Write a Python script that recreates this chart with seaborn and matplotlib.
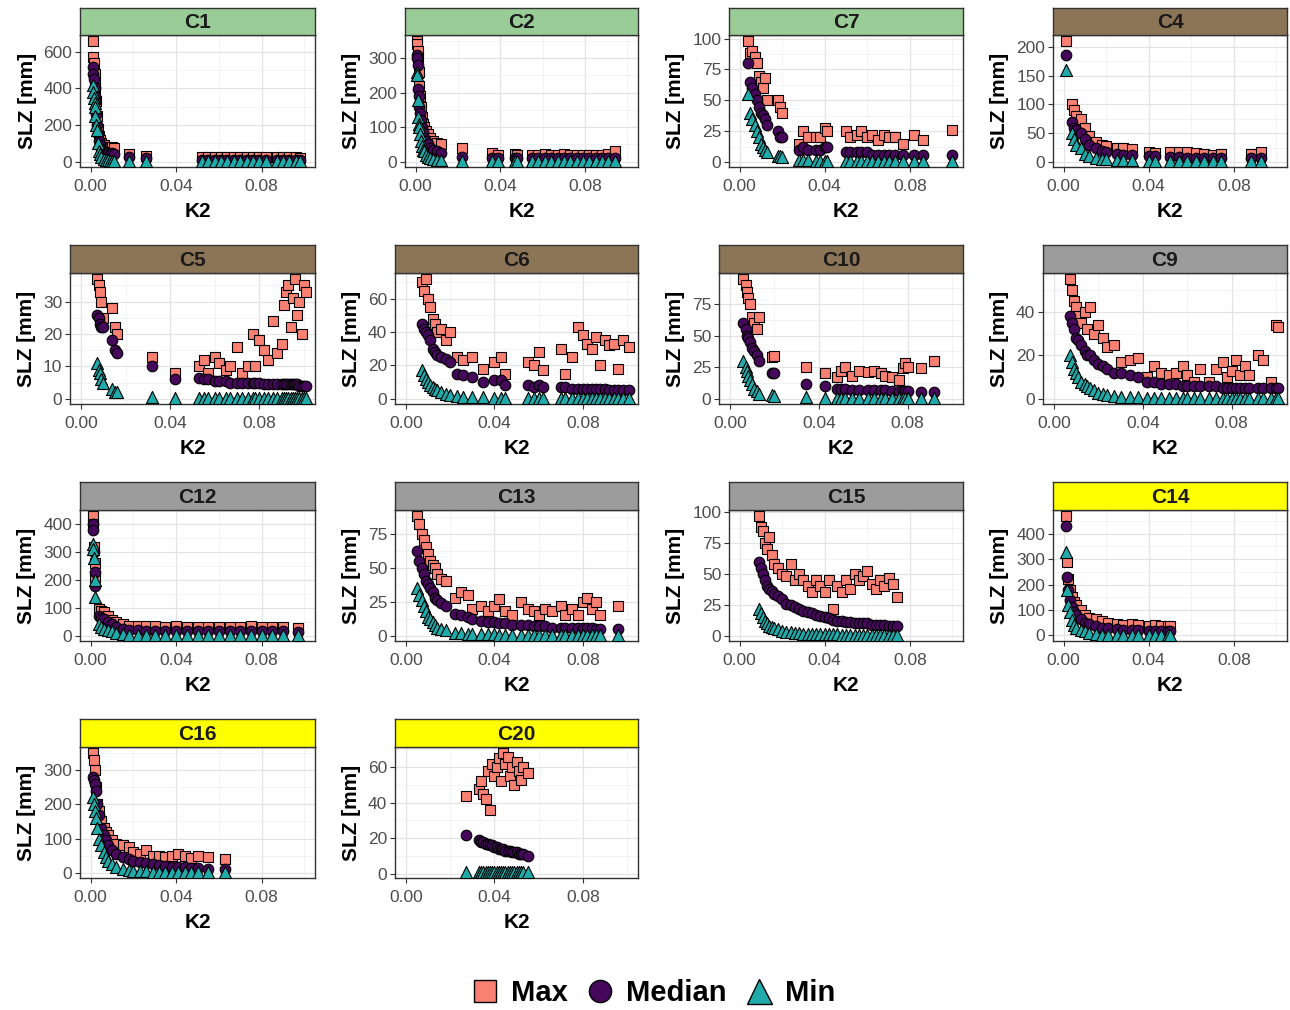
import matplotlib
matplotlib.use("Agg")
import numpy as np
import pandas as pd
import matplotlib.pyplot as plt
import seaborn as sns
from matplotlib.lines import Line2D
from matplotlib.ticker import AutoMinorLocator

sns.set_theme(style="white")
plt.rcParams['font.family'] = ['Liberation Sans', 'DejaVu Sans']

# ---------------- data ----------------
C1_k2 = [0.0010, 0.0012, 0.0015, 0.0018, 0.0020, 0.0022, 0.0025, 0.0030, 0.0035, 0.0040, 0.0045, 0.0050,
         0.0060, 0.0070, 0.0080, 0.0090, 0.0100, 0.0110, 0.0180, 0.0260, 0.0520, 0.0550, 0.0580, 0.0610,
         0.0640, 0.0670, 0.0700, 0.0730, 0.0760, 0.0790, 0.0820, 0.0870, 0.0900, 0.0930, 0.0960, 0.0980]
C1_max = [660, 570, 540, 480, 430, 400, 330, 250, 180, 140, 120, 100, 90, 80, 75, 70, 80, 75, 40, 30,
          25, 25, 25, 25, 25, 25, 25, 25, 25, 25, 25, 25, 25, 25, 25, 20]
C1_med = [520, 480, 450, 400, 360, 330, 260, 200, 150, 110, 90, 70, 60, 50, 45, 40, 45, 40, 25, 20,
          10, 10, 10, 10, 10, 10, 10, 10, 10, 10, 10, 10, 10, 10, 10, 10]
C1_min = [420, 380, 350, 320, 300, 250, 200, 170, 100, 60, 40, 25, 15, 10, 8, 5, 5, 5, 5, 5,
          3, 3, 3, 3, 3, 3, 3, 3, 3, 3, 3, 3, 3, 3, 3, 3]

C2_k2 = [0.0005, 0.0008, 0.0010, 0.0012, 0.0015, 0.0018, 0.0020, 0.0025, 0.0030, 0.0035, 0.0040, 0.0050,
         0.0060, 0.0070, 0.0080, 0.0100, 0.0120, 0.0220, 0.0360, 0.0390, 0.0470, 0.0480, 0.0550, 0.0580,
         0.0610, 0.0640, 0.0670, 0.0700, 0.0730, 0.0760, 0.0790, 0.0820, 0.0850, 0.0880, 0.0910, 0.0940]
C2_max = [350, 340, 320, 300, 260, 220, 190, 160, 130, 110, 100, 90, 80, 70, 60, 55, 50, 40, 25, 20,
          22, 20, 20, 20, 22, 20, 20, 22, 20, 20, 20, 20, 20, 20, 22, 30]
C2_med = [310, 300, 280, 210, 190, 160, 140, 120, 100, 85, 70, 60, 50, 40, 35, 30, 25, 15, 10, 10,
          10, 10, 10, 10, 10, 10, 10, 10, 10, 10, 10, 10, 10, 10, 10, 10]
C2_min = [260, 250, 180, 130, 110, 100, 80, 60, 45, 35, 30, 20, 15, 10, 8, 5, 4, 3, 2, 2,
          2, 2, 2, 2, 2, 2, 2, 2, 2, 2, 2, 2, 2, 2, 2, 2]

C7_k2 = [0.004, 0.005, 0.006, 0.007, 0.008, 0.009, 0.010, 0.011, 0.012, 0.013, 0.018, 0.019, 0.020,
         0.028, 0.030, 0.032, 0.036, 0.038, 0.040, 0.041, 0.050, 0.052, 0.055, 0.057, 0.060, 0.062,
         0.065, 0.068, 0.070, 0.073, 0.077, 0.082, 0.086, 0.100]
C7_max = [98, 88, 90, 85, 80, 70, 65, 60, 68, 50, 50, 45, 40, 15, 25, 20, 20, 20, 28, 25, 25, 20,
          22, 25, 20, 22, 18, 22, 20, 20, 15, 22, 18, 26]
C7_med = [80, 65, 60, 55, 50, 45, 40, 38, 35, 30, 25, 20, 20, 10, 12, 10, 10, 10, 12, 12, 8, 8,
          8, 8, 8, 6, 6, 6, 6, 6, 6, 6, 6, 6]
C7_min = [55, 40, 35, 30, 25, 20, 15, 12, 10, 8, 5, 5, 4, 2, 2, 2, 1, 1, 1, 1, 1, 1,
          1, 1, 1, 1, 1, 1, 1, 1, 1, 1, 1, 1]

C4_k2 = [0.001, 0.004, 0.005, 0.006, 0.008, 0.010, 0.012, 0.015, 0.018, 0.020, 0.025, 0.028, 0.032,
         0.040, 0.043, 0.050, 0.054, 0.058, 0.062, 0.066, 0.070, 0.074, 0.088, 0.093]
C4_max = [210, 100, 90, 80, 75, 60, 45, 35, 30, 28, 25, 25, 22, 18, 16, 17, 18, 18, 16, 14, 12, 14, 15, 17]
C4_med = [185, 70, 60, 55, 50, 40, 30, 25, 20, 18, 15, 12, 12, 10, 10, 9, 9, 8, 8, 8, 8, 8, 8, 8]
C4_min = [160, 50, 40, 30, 25, 15, 10, 8, 5, 5, 3, 3, 3, 2, 2, 2, 2, 2, 2, 2, 2, 2, 2, 2]

C5_k2 = [0.0070, 0.0080, 0.0085, 0.0090, 0.0100, 0.0140, 0.0150, 0.0160, 0.0320, 0.0420, 0.0530,
         0.0550, 0.0570, 0.0600, 0.0620, 0.0650, 0.0670, 0.0700, 0.0720, 0.0750, 0.0770, 0.0780,
         0.0800, 0.0820, 0.0840, 0.0860, 0.0880, 0.0900, 0.0910, 0.0920, 0.0930, 0.0940, 0.0950,
         0.0960, 0.0970, 0.0980, 0.0990, 0.1000, 0.1010]
C5_max = [37, 35, 33, 30, 25, 28, 22, 20, 13, 8, 10, 12, 8, 13, 11, 9, 10, 16, 8, 10, 20, 10,
          18, 15, 12, 24, 14, 17, 29, 33, 35, 22, 31, 37, 26, 30, 20, 35, 33]
C5_med = [26, 25, 23, 22, 22, 18, 15, 14, 10, 6, 6.5, 6, 6, 5.5, 5.5, 5.5, 5, 5, 5, 5, 5, 5,
          5, 4.5, 4.5, 4.5, 4.5, 4.5, 4.5, 4.5, 4.5, 4.5, 4.5, 4.5, 4.5, 4, 4, 4, 4]
C5_min = [11, 9, 8, 6, 5, 3, 2, 2, 0.5, 0.3, 0.2, 0.2, 0.2, 0.2, 0.2, 0.2, 0.2, 0.2, 0.2, 0.2,
          0.2, 0.2, 0.2, 0.2, 0.2, 0.2, 0.2, 0.2, 0.2, 0.2, 0.2, 0.2, 0.2, 0.2, 0.2, 0.2, 0.2, 0.2, 0.2]

C6_k2 = [0.007, 0.008, 0.009, 0.010, 0.011, 0.012, 0.013, 0.014, 0.016, 0.018, 0.020, 0.023, 0.026,
         0.030, 0.035, 0.040, 0.043, 0.045, 0.055, 0.058, 0.060, 0.062, 0.070, 0.072, 0.075, 0.078,
         0.080, 0.082, 0.084, 0.086, 0.088, 0.090, 0.092, 0.094, 0.096, 0.098, 0.101]
C6_max = [70, 65, 72, 60, 55, 48, 45, 40, 42, 35, 40, 25, 23, 25, 18, 22, 25, 15, 22, 20, 28, 17,
          30, 15, 25, 43, 38, 33, 30, 37, 20, 35, 32, 33, 18, 35, 31]
C6_med = [45, 42, 40, 38, 35, 30, 28, 26, 25, 24, 22, 15, 14, 13, 10, 11, 11, 8, 8, 7, 8, 7,
          7, 7, 6, 6, 6, 6, 6, 6, 6, 6, 5, 5, 5, 5, 5]
C6_min = [17, 14, 12, 10, 8, 7, 6, 5, 4, 3, 2, 1.5, 1, 1, 1, 0.5, 0.5, 0.5, 0.3, 0.3, 0.3, 0.3,
          0.3, 0.3, 0.3, 0.3, 0.3, 0.3, 0.3, 0.3, 0.3, 0.3, 0.3, 0.3, 0.3, 0.3, 0.3]

C10_k2 = [0.0060, 0.0070, 0.0075, 0.0080, 0.0090, 0.0100, 0.0110, 0.0120, 0.0130, 0.0190, 0.0200,
          0.0340, 0.0430, 0.0480, 0.0500, 0.0520, 0.0550, 0.0580, 0.0620, 0.0650, 0.0680, 0.0700,
          0.0730, 0.0760, 0.0780, 0.0790, 0.0800, 0.0860, 0.0920]
C10_max = [95, 90, 85, 80, 75, 65, 60, 55, 65, 33, 34, 25, 20, 17, 22, 25, 18, 22, 21, 22, 20, 18,
           17, 15, 24, 28, 25, 24, 30]
C10_med = [60, 55, 50, 48, 45, 40, 38, 35, 30, 20, 20, 12, 10, 8, 8, 8, 7, 7, 7, 7, 7, 7,
           6, 6, 6, 6, 6, 5, 5]
C10_min = [30, 25, 22, 18, 15, 12, 8, 6, 4, 3, 2, 1, 0.5, 0.5, 0.5, 0.5, 0.5, 0.5, 0.5, 0.5, 0.5,
           0.5, 0.5, 0.5, 0.5, 0.5, 0.5, 0.5, 0.5]

C9_k2 = [0.007, 0.008, 0.009, 0.010, 0.011, 0.012, 0.014, 0.015, 0.016, 0.018, 0.020, 0.022, 0.024,
         0.027, 0.030, 0.034, 0.038, 0.042, 0.045, 0.048, 0.052, 0.055, 0.058, 0.060, 0.063, 0.066,
         0.070, 0.073, 0.076, 0.078, 0.080, 0.082, 0.084, 0.086, 0.088, 0.092, 0.094, 0.098, 0.100, 0.101]
C9_max = [55, 50, 45, 42, 38, 35, 40, 32, 42, 30, 34, 28, 24, 25, 17, 18, 19, 10, 15, 12, 11, 12,
          15, 11, 8, 14, 8, 14, 17, 10, 13, 18, 11, 15, 11, 20, 18, 8, 34, 33]
C9_med = [38, 35, 32, 28, 27, 25, 22, 20, 20, 18, 16, 15, 14, 12, 12, 11, 10, 8, 8, 7, 7, 7,
          6, 6, 6, 6, 6, 6, 5, 5, 5, 5, 5, 5, 5, 5, 5, 5, 5, 5]
C9_min = [20, 17, 14, 12, 10, 8, 7, 6, 5, 4, 3, 2.5, 2, 1.5, 1, 1, 0.8, 0.5, 0.5, 0.5, 0.5, 0.5,
          0.5, 0.5, 0.5, 0.5, 0.5, 0.5, 0.5, 0.5, 0.5, 0.5, 0.5, 0.5, 0.5, 0.5, 0.5, 0.5, 0.5, 0.5]

C12_k2 = [0.0010, 0.0012, 0.0015, 0.0018, 0.0020, 0.0040, 0.0050, 0.0060, 0.0080, 0.0100, 0.0120,
          0.0150, 0.0180, 0.0220, 0.0260, 0.0300, 0.0350, 0.0400, 0.0450, 0.0500, 0.0550, 0.0600,
          0.0650, 0.0700, 0.0750, 0.0800, 0.0850, 0.0900, 0.0970]
C12_max = [430, 400, 320, 260, 210, 95, 90, 85, 70, 55, 50, 40, 35, 35, 33, 33, 32, 34, 32, 32,
           30, 32, 30, 32, 34, 30, 30, 32, 28]
C12_med = [400, 380, 300, 230, 180, 70, 65, 60, 50, 40, 30, 25, 20, 20, 18, 18, 18, 17, 17, 17,
           16, 16, 16, 16, 16, 15, 15, 15, 12]
C12_min = [330, 310, 280, 200, 140, 40, 30, 25, 20, 15, 10, 5, 3, 3, 2, 2, 2, 2, 2, 2,
           2, 2, 2, 2, 2, 2, 2, 2, 2]

C13_k2 = [0.005, 0.006, 0.007, 0.008, 0.009, 0.010, 0.011, 0.012, 0.013, 0.014, 0.016, 0.018, 0.022,
          0.025, 0.028, 0.030, 0.034, 0.037, 0.040, 0.042, 0.045, 0.048, 0.052, 0.055, 0.058, 0.060,
          0.063, 0.066, 0.070, 0.072, 0.075, 0.078, 0.080, 0.082, 0.084, 0.086, 0.088, 0.096]
C13_max = [88, 82, 75, 70, 65, 60, 55, 52, 50, 45, 42, 40, 28, 32, 30, 20, 22, 18, 22, 27, 18, 15,
           25, 20, 18, 15, 20, 18, 22, 15, 20, 15, 25, 28, 20, 25, 15, 22]
C13_med = [62, 55, 50, 45, 40, 38, 35, 32, 28, 26, 24, 22, 16, 15, 14, 12, 11, 10, 10, 9, 9, 8,
           8, 8, 7, 7, 7, 6, 6, 6, 6, 6, 6, 6, 6, 5, 5, 5]
C13_min = [35, 30, 26, 22, 18, 14, 12, 10, 8, 6, 5, 4, 2, 2, 1, 1, 1, 1, 1, 0.5, 0.5, 0.5,
           0.5, 0.5, 0.5, 0.5, 0.5, 0.5, 0.5, 0.5, 0.5, 0.5, 0.5, 0.5, 0.5, 0.5, 0.5, 0.5]

C15_k2 = [0.009, 0.010, 0.011, 0.012, 0.013, 0.014, 0.015, 0.016, 0.018, 0.020, 0.022, 0.024, 0.026,
          0.028, 0.030, 0.032, 0.034, 0.036, 0.038, 0.040, 0.042, 0.044, 0.046, 0.048, 0.050, 0.052,
          0.054, 0.056, 0.058, 0.060, 0.062, 0.064, 0.066, 0.068, 0.070, 0.072, 0.074]
C15_max = [97, 88, 85, 75, 70, 80, 65, 58, 55, 50, 48, 58, 45, 50, 45, 40, 35, 45, 40, 35, 45, 22,
           40, 35, 45, 38, 50, 45, 48, 52, 42, 38, 45, 40, 47, 42, 31]
C15_med = [60, 55, 50, 45, 40, 38, 36, 34, 32, 30, 26, 25, 23, 22, 20, 19, 18, 17, 16, 15, 14, 13,
           12, 12, 11, 11, 10, 10, 10, 10, 9, 9, 9, 9, 8, 8, 8]
C15_min = [22, 18, 15, 12, 10, 8, 7, 6, 5, 4, 3, 3, 2, 2, 1.5, 1.5, 1, 1, 1, 1, 1, 1,
           1, 0.5, 0.5, 0.5, 0.5, 0.5, 0.5, 0.5, 0.5, 0.5, 0.5, 0.5, 0.5, 0.5, 0.5]

C14_k2 = [0.0010, 0.0015, 0.0020, 0.0030, 0.0040, 0.0050, 0.0060, 0.0080, 0.0100, 0.0120, 0.0150,
          0.0180, 0.0210, 0.0250, 0.0280, 0.0320, 0.0350, 0.0400, 0.0430, 0.0460, 0.0490, 0.0500]
C14_max = [470, 290, 220, 180, 150, 130, 120, 100, 80, 70, 65, 55, 50, 45, 40, 45, 40, 38, 40, 38, 38, 35]
C14_med = [430, 230, 180, 140, 110, 90, 80, 65, 50, 45, 35, 30, 28, 25, 22, 20, 20, 18, 18, 16, 16, 15]
C14_min = [330, 180, 120, 90, 60, 40, 30, 20, 15, 10, 5, 3, 2, 2, 1, 1, 1, 1, 1, 1, 1, 1]

C16_k2 = [0.0010, 0.0015, 0.0020, 0.0025, 0.0030, 0.0040, 0.0050, 0.0060, 0.0070, 0.0080, 0.0100,
          0.0120, 0.0150, 0.0180, 0.0200, 0.0230, 0.0260, 0.0290, 0.0320, 0.0350, 0.0380, 0.0410,
          0.0440, 0.0470, 0.0500, 0.0550, 0.0630]
C16_max = [350, 330, 300, 250, 200, 180, 150, 130, 120, 110, 95, 85, 80, 75, 60, 55, 65, 50, 48,
           45, 50, 55, 48, 42, 50, 45, 40]
C16_med = [280, 270, 260, 240, 200, 170, 130, 110, 95, 80, 65, 55, 45, 40, 35, 30, 28, 25, 22,
           20, 18, 17, 16, 15, 14, 12, 10]
C16_min = [220, 200, 180, 160, 130, 100, 80, 60, 45, 35, 25, 18, 12, 8, 6, 5, 4, 3, 3,
           2, 2, 2, 2, 2, 2, 2, 2]

C20_k2 = [0.027, 0.033, 0.034, 0.035, 0.036, 0.037, 0.038, 0.039, 0.040, 0.041, 0.042, 0.043, 0.044,
          0.045, 0.046, 0.047, 0.048, 0.049, 0.050, 0.051, 0.052, 0.053, 0.055]
C20_max = [44, 48, 52, 45, 42, 58, 36, 62, 55, 60, 65, 52, 68, 62, 66, 55, 60, 50, 63, 58, 53, 60, 57]
C20_med = [22, 19, 18, 18, 17, 17, 16, 16, 15, 15, 14, 14, 14, 13, 13, 13, 12, 12, 12, 11, 11, 11, 10]
C20_min = [1, 1, 1, 1, 1, 1, 1, 1, 1, 1, 1, 1, 1, 1, 1, 1, 1, 1, 1, 1, 1, 1, 1]

panel_names = ["C1", "C2", "C7", "C4",
               "C5", "C6", "C10", "C9",
               "C12", "C13", "C15", "C14",
               "C16", "C20"]
panel_groups = ["wet", "wet", "wet", "mid",
                "mid", "mid", "mid", "grey",
                "grey", "grey", "grey", "dry",
                "dry", "dry"]
panel_yticks = {
    "C1": [0, 200, 400, 600], "C2": [0, 100, 200, 300], "C7": [0, 25, 50, 75, 100],
    "C4": [0, 50, 100, 150, 200], "C5": [0, 10, 20, 30], "C6": [0, 20, 40, 60],
    "C10": [0, 25, 50, 75], "C9": [0, 20, 40], "C12": [0, 100, 200, 300, 400],
    "C13": [0, 25, 50, 75], "C15": [0, 25, 50, 75, 100], "C14": [0, 100, 200, 300, 400],
    "C16": [0, 100, 200, 300], "C20": [0, 20, 40, 60],
}
x_ticks = [0.00, 0.04, 0.08]
x_tick_labels = ["0.00", "0.04", "0.08"]
series_names = ["Max", "Median", "Min"]

# ---------------- styling ----------------
strip_colors = {"wet": "#99CC96", "mid": "#8C7556", "grey": "#9C9C9C", "dry": "#FFFF00"}
series_colors = {"Max": "#FA8072", "Median": "#45085A", "Min": "#20ABAA"}
series_markers = {"Max": "s", "Median": "o", "Min": "^"}
series_sizes = {"Max": 55, "Median": 58, "Min": 75}

data = {}
g = globals()
for nm in panel_names:
    k2 = g[nm + "_k2"]
    frames = []
    for s, suf in zip(series_names, ["_max", "_med", "_min"]):
        frames.append(pd.DataFrame({"K2": k2, "SLZ": g[nm + suf], "Stat": s}))
    data[nm] = pd.concat(frames, ignore_index=True)

W, H = 1290, 1010
fig = plt.figure(figsize=(W / 100, H / 100), dpi=100)
fig.patch.set_facecolor("white")


def frac(l, t, r, b):
    return [l / W, 1 - b / H, (r - l) / W, (b - t) / H]


col_left = [80, 405, 729, 1053]
col_right = [315, 638, 963, 1287]
row_strip_top = [8, 245, 482, 719]
row_axes_top = [35, 273, 510, 747]
row_axes_bot = [167, 404, 641, 878]

border = "#333333"
for i, nm in enumerate(panel_names):
    r, c = divmod(i, 4)
    yt = panel_yticks[nm]
    narrow = max(len(str(v)) for v in yt) < 3
    left = col_left[c] - (10 if narrow else 0)
    right = col_right[c]
    ax = fig.add_axes(frac(left, row_axes_top[r], right, row_axes_bot[r]))
    sax = fig.add_axes(frac(left, row_strip_top[r], right, row_axes_top[r]))

    df = data[nm]
    for s in ["Max", "Median", "Min"]:
        sub = df[df["Stat"] == s]
        sns.scatterplot(data=sub, x="K2", y="SLZ", ax=ax, marker=series_markers[s],
                        color=series_colors[s], s=series_sizes[s], edgecolor="black",
                        linewidth=0.8, legend=False, zorder=3)
    ymin, ymax = df["SLZ"].min(), df["SLZ"].max()
    rng = ymax - ymin
    ax.set_ylim(ymin - 0.05 * rng, ymax + 0.05 * rng)
    ax.set_xlim(-0.005, 0.105)
    ax.set_xticks(x_ticks)
    ax.set_xticklabels(x_tick_labels)
    ax.set_yticks(yt)
    ax.set_yticklabels([str(v) for v in yt])
    ax.xaxis.set_minor_locator(AutoMinorLocator(2))
    ax.yaxis.set_minor_locator(AutoMinorLocator(2))
    ax.grid(True, which="major", color="#E3E3E3", linewidth=0.9, zorder=0)
    ax.grid(True, which="minor", color="#F1F1F1", linewidth=0.6, zorder=0)
    ax.set_axisbelow(True)
    ax.set_facecolor("white")
    for sp in ax.spines.values():
        sp.set_color(border)
        sp.set_linewidth(1.0)
    ax.tick_params(axis="both", which="major", direction="out", length=3.5, width=0.8,
                   color="#333333", labelsize=12.5, labelcolor="#4D4D4D",
                   bottom=True, left=True)
    ax.tick_params(axis="x", which="major", pad=5)
    ax.tick_params(axis="y", which="major", pad=2)
    ax.tick_params(axis="both", which="minor", length=0)
    ax.set_xlabel("K2", fontsize=15, fontweight="bold", color="black", labelpad=6)
    ax.set_ylabel("SLZ [mm]", fontsize=15, fontweight="bold", color="black", labelpad=5)

    sax.set_facecolor(strip_colors[panel_groups[i]])
    sax.set_xticks([])
    sax.set_yticks([])
    for sp in sax.spines.values():
        sp.set_color(border)
        sp.set_linewidth(1.0)
    sax.text(0.5, 0.45, nm, transform=sax.transAxes, ha="center", va="center",
             fontsize=15, fontweight="bold", color="#1A1A1A")

handles = [Line2D([0], [0], marker=series_markers[s], linestyle="none",
                  markerfacecolor=series_colors[s], markeredgecolor="black",
                  markeredgewidth=1.0, markersize=16 if s != "Min" else 18, label=s)
           for s in series_names]
leg = fig.legend(handles=handles, loc="center", bbox_to_anchor=(0.5 + 8 / W, 1 - 993 / H), ncol=3,
                 frameon=False, prop={"size": 21, "weight": "bold"}, handletextpad=0.4,
                 columnspacing=0.6, handlelength=1.0)
for t in leg.get_texts():
    t.set_color("black")

fig.savefig("out.png", dpi=100, facecolor="white")
